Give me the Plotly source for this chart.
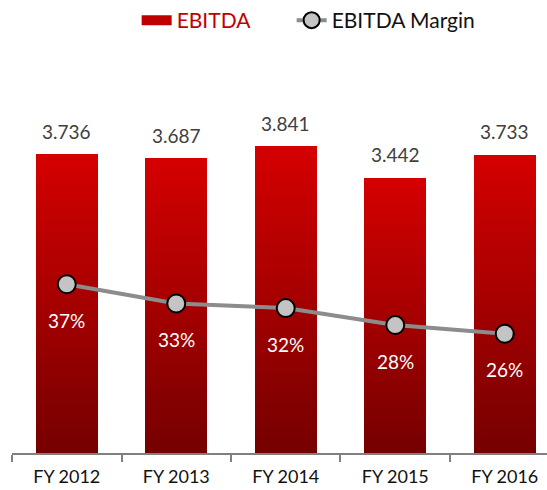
import plotly.graph_objects as go

# ---- data ----
categories = ["FY 2012", "FY 2013", "FY 2014", "FY 2015", "FY 2016"]
ebitda = [3.736, 3.687, 3.841, 3.442, 3.733]
ebitda_margin = [36.8, 32.6, 31.6, 27.9, 26.0]

FONT = "Lato"
TOP_RGB = (212, 0, 0)
BOT_RGB = (118, 0, 0)
N_STEPS = 50

fig = go.Figure()

# gradient bars: overlay progressively shorter, darker bars
for k in range(N_STEPS):
    t = k / (N_STEPS - 1)
    r = round(TOP_RGB[0] + (BOT_RGB[0] - TOP_RGB[0]) * t)
    g = round(TOP_RGB[1] + (BOT_RGB[1] - TOP_RGB[1]) * t)
    b = round(TOP_RGB[2] + (BOT_RGB[2] - TOP_RGB[2]) * t)
    frac = 1 - k / N_STEPS
    fig.add_trace(go.Bar(
        x=categories,
        y=[v * frac for v in ebitda],
        width=0.566,
        marker=dict(color=f"rgb({r},{g},{b})", line=dict(width=0)),
        showlegend=False,
        hoverinfo="skip",
    ))

# legend proxy for bars
fig.add_trace(go.Scatter(
    x=[None], y=[None], mode="lines",
    line=dict(color="#c00000", width=12),
    name="<span style='color:#c00000'>EBITDA</span>",
    legendrank=1,
    legendwidth=110,
))

# margin line
fig.add_trace(go.Scatter(
    x=categories, y=ebitda_margin, yaxis="y2",
    mode="lines+markers",
    line=dict(color="#8c8c8c", width=4),
    marker=dict(size=18, color="#c4c4c4", line=dict(color="#000000", width=2)),
    name="EBITDA Margin",
    legendrank=2,
))

annotations = []
for c, v in zip(categories, ebitda):
    annotations.append(dict(
        x=c, y=v, xref="x", yref="y", text=f"{v:.3f}", showarrow=False,
        yanchor="middle", yshift=23,
        font=dict(family=FONT, size=19, color="#404040"),
    ))
for c, m in zip(categories, ebitda_margin):
    annotations.append(dict(
        x=c, y=m, xref="x", yref="y2", text=f"{m:.0f}%", showarrow=False,
        yanchor="middle", yshift=-36,
        font=dict(family=FONT, size=19, color="#ffffff"),
    ))

fig.update_layout(
    width=547, height=490,
    margin=dict(l=12, r=0, t=40, b=37),
    paper_bgcolor="white", plot_bgcolor="white",
    barmode="overlay",
    bargap=0,
    font=dict(family=FONT, color="#111111"),
    xaxis=dict(
        type="category",
        range=[-0.5, 4.386],
        showline=True, linecolor="#808080", linewidth=2,
        ticks="outside", tickson="boundaries", ticklen=7,
        tickcolor="#808080", tickwidth=2,
        tickfont=dict(family=FONT, size=18, color="#111111"),
        ticklabelstandoff=6,
        showgrid=False, zeroline=False,
    ),
    yaxis=dict(range=[0, 5.13], visible=False, showgrid=False, zeroline=False),
    yaxis2=dict(range=[0, 89.4], overlaying="y", visible=False,
                showgrid=False, zeroline=False),
    legend=dict(
        orientation="h", x=0.233, xanchor="left", y=1.056, yanchor="middle",
        font=dict(family=FONT, size=21, color="#111111"),
        bgcolor="rgba(0,0,0,0)",
    ),
    annotations=annotations,
)

fig.write_html("out.html", config={"displayModeBar": False},
               post_script="document.body.style.margin='0px';")
